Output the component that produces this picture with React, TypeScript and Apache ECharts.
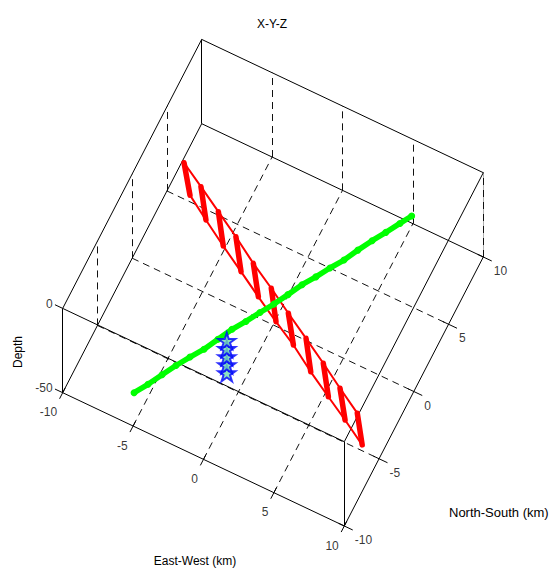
import React, { useEffect, useRef } from "react";
import * as echarts from "echarts";

// ---------- data ----------
const xLim = [-10, 10]; // East-West (km)
const yLim = [-10, 10]; // North-South (km)
const zLim = [-50, 0]; // Depth
const xTicks = [-10, -5, 0, 5, 10];
const yTicks = [-10, -5, 0, 5, 10];
const zTicks = [-50, 0];

// red fault: upper trace (z = 0) and lower trace (z = -20)
const faultTopX = [-7.37, -5.7, -3.97, -2.23, -0.45, 1.31, 3.02, 4.77, 6.49, 8.18, 9.9];
const faultTopY = [2.13, 1.18, 0.18, -0.82, -1.92, -2.9, -3.91, -4.91, -5.91, -6.93, -7.93];
const faultTopZ = 0;
const faultBotX = [-7.07, -5.43, -3.67, -1.9, -0.17, 1.57, 3.25, 5.03, 6.77, 8.41, 10.12];
const faultBotY = [2.38, 1.35, 0.28, -0.75, -1.76, -2.75, -3.65, -4.76, -5.75, -6.67, -7.67];
const faultBotZ = -20;

// green profile
const greenX = [-5.43, -4.88, -4.36, -3.84, -3.29, -2.72, -2.22, -1.71, -1.15, -0.61, -0.06, 0.46, 0.97, 1.53, 2.07, 2.64, 3.14, 3.67, 4.21, 4.75, 5.2];
const greenY = [-8.99, -8.09, -7.13, -6.18, -5.28, -4.41, -3.42, -2.43, -1.57, -0.64, 0.26, 1.22, 2.21, 3.07, 4.0, 4.87, 5.86, 6.82, 7.71, 8.64, 9.42];
const greenZ = -40;

// blue stars
const starX = [-1.21, -1.21, -1.21, -1.21, -1.21];
const starY = [-4.2, -4.2, -4.2, -4.2, -4.2];
const starZ = [-50, -45.2, -40.4, -35.6, -30.8];

// ---------- view (orthographic camera) ----------
const W = 551;
const H = 568;
const VIEW = {
  center: [273, 282.7],
  ex: [14.08, 6.665],
  ey: [6.95, -13.45],
  ez: [0, -1.686],
};
const FONT = "'Liberation Sans', Arial, Helvetica, sans-serif";
const STAR =
  "path://M50,0L61.23,34.55L97.55,34.55L68.17,55.9L79.39,90.45L50,69.1L20.61,90.45L31.83,55.9L2.45,34.55L38.77,34.55Z";

const xc = (xLim[0] + xLim[1]) / 2;
const yc = (yLim[0] + yLim[1]) / 2;
const zc = (zLim[0] + zLim[1]) / 2;

function proj(x: number, y: number, z: number): number[] {
  const dx = x - xc;
  const dy = y - yc;
  const dz = z - zc;
  return [
    VIEW.center[0] + dx * VIEW.ex[0] + dy * VIEW.ey[0] + dz * VIEW.ez[0],
    VIEW.center[1] + dx * VIEW.ex[1] + dy * VIEW.ey[1] + dz * VIEW.ez[1],
  ];
}

type P3 = [number, number, number];
const seg = (a: P3, b: P3) => ({ coords: [proj(...a), proj(...b)] });

function buildOption() {
  const [x0, x1] = xLim;
  const [y0, y1] = yLim;
  const [z0, z1] = zLim;

  const inner = (t: number[], lim: number[]) => t.filter((v) => v > lim[0] && v < lim[1]);

  // dashed grid: floor and two back walls
  const gridSegs: any[] = [];
  inner(xTicks, xLim).forEach((xt) => {
    gridSegs.push(seg([xt, y0, z0], [xt, y1, z0]));
    gridSegs.push(seg([xt, y1, z0], [xt, y1, z1]));
  });
  inner(yTicks, yLim).forEach((yt) => {
    gridSegs.push(seg([x0, yt, z0], [x1, yt, z0]));
    gridSegs.push(seg([x0, yt, z0], [x0, yt, z1]));
  });
  gridSegs.push(seg([x1, y1, z0], [x1, y1, z1]));

  const boxSegs = [
    seg([x0, y0, z1], [x0, y1, z1]),
    seg([x0, y1, z1], [x1, y1, z1]),
    seg([x1, y1, z1], [x1, y0, z1]),
    seg([x1, y0, z1], [x0, y0, z1]),
    seg([x0, y0, z0], [x0, y1, z0]),
    seg([x0, y1, z0], [x1, y1, z0]),
    seg([x1, y1, z0], [x1, y0, z0]),
    seg([x1, y0, z0], [x0, y0, z0]),
    seg([x0, y0, z0], [x0, y0, z1]),
    seg([x0, y1, z0], [x0, y1, z1]),
    seg([x1, y0, z0], [x1, y0, z1]),
  ];

  const tickSegs: any[] = [];
  xTicks.forEach((xt) => tickSegs.push(seg([xt, y0 - 0.45, z0], [xt, y0 + 0.35, z0])));
  yTicks.forEach((yt) => tickSegs.push(seg([x1 - 0.4, yt, z0], [x1 + 0.6, yt, z0])));
  zTicks.forEach((zt) => tickSegs.push(seg([x0 - 0.55, y0, zt], [x0, y0, zt])));

  const topRail = faultTopX.map((x, i) => proj(x, faultTopY[i], faultTopZ));
  const botRail = faultBotX.map((x, i) => proj(x, faultBotY[i], faultBotZ));
  const rungs = faultTopX.map((x, i) => ({ coords: [topRail[i], botRail[i]] }));

  const green = greenX.map((x, i) => proj(x, greenY[i], greenZ));
  const stars = starX.map((x, i) => proj(x, starY[i], starZ[i]));

  const labelSeries = (
    data: { value: number[]; name: string }[],
    align: string,
    offset: number[]
  ) => ({
    type: "scatter",
    data,
    symbolSize: 1,
    itemStyle: { color: "rgba(0,0,0,0)" },
    silent: true,
    z: 10,
    label: {
      show: true,
      formatter: "{b}",
      position: "inside",
      align,
      verticalAlign: "middle",
      offset,
      color: "#000",
      fontSize: 12,
      fontFamily: FONT,
    },
  });

  const text = (s: string, x: number, y: number, align = "center", rotation = 0, size = 12) => ({
    type: "text",
    x,
    y,
    rotation,
    style: {
      text: s,
      fill: "#000",
      font: `${size}px ${FONT}`,
      align,
      verticalAlign: "middle",
      textAlign: align,
      textVerticalAlign: "middle",
    },
  });

  return {
    animation: false,
    backgroundColor: "#fff",
    grid: { left: 0, top: 0, right: 0, bottom: 0 },
    xAxis: { type: "value", min: 0, max: W, show: false },
    yAxis: { type: "value", min: 0, max: H, inverse: true, show: false },
    graphic: [
      text("X-Y-Z", 272, 24),
      text("Depth", 18, 352, "center", Math.PI / 2),
      text("East-West (km)", 195, 561),
      text("North-South (km)", 449, 512, "left", 0, 13),
    ],
    series: [
      {
        type: "lines",
        coordinateSystem: "cartesian2d",
        data: [seg([x1, y1, z0], [x1, y1, z1])],
        lineStyle: { color: "#b0b0b0", width: 1, opacity: 1 },
        silent: true,
        z: 1,
      },
      {
        type: "lines",
        coordinateSystem: "cartesian2d",
        data: gridSegs,
        lineStyle: { color: "#111", width: 1, type: [7, 5], opacity: 1 },
        silent: true,
        z: 2,
      },
      {
        type: "lines",
        coordinateSystem: "cartesian2d",
        data: boxSegs.concat(tickSegs),
        lineStyle: { color: "#000", width: 1, opacity: 1 },
        silent: true,
        z: 3,
      },
      {
        type: "lines",
        coordinateSystem: "cartesian2d",
        polyline: true,
        data: [{ coords: topRail }, { coords: botRail }],
        lineStyle: { color: "#ff0000", width: 2, opacity: 1, join: "round" },
        silent: true,
        z: 4,
      },
      {
        type: "lines",
        coordinateSystem: "cartesian2d",
        data: rungs,
        lineStyle: { color: "#ff0000", width: 5.5, opacity: 1, cap: "round" },
        silent: true,
        z: 4,
      },
      {
        type: "line",
        data: green,
        symbol: "circle",
        symbolSize: 7,
        showSymbol: true,
        itemStyle: { color: "#00ff00" },
        lineStyle: { color: "#00ff00", width: 5.5, cap: "round", join: "round" },
        silent: true,
        z: 5,
      },
      {
        type: "scatter",
        data: stars,
        symbol: STAR,
        symbolKeepAspect: true,
        symbolSize: 17,
        itemStyle: { color: "#6fdcb0", borderColor: "#0000ff", borderWidth: 2 },
        silent: true,
        z: 6,
      },
      labelSeries(
        xTicks.map((t) => ({ value: proj(t, y0, z0), name: String(t) })),
        "right",
        [-5.5, 19.5]
      ),
      labelSeries(
        yTicks.map((t) => ({ value: proj(x1, t, z0), name: String(t) })),
        "left",
        [10.5, 14]
      ),
      labelSeries(
        zTicks.map((t) => ({ value: proj(x0, y0, t), name: String(t) })),
        "right",
        [-10, -4.5]
      ),
    ],
  };
}

export default function App() {
  const ref = useRef<HTMLDivElement>(null);
  useEffect(() => {
    document.body.style.margin = "0";
    document.body.style.overflow = "hidden";
    const chart = echarts.init(ref.current!, null, { renderer: "svg", width: W, height: H });
    chart.setOption(buildOption() as any);
    return () => chart.dispose();
  }, []);
  return <div ref={ref} style={{ width: W, height: H }} />;
}
